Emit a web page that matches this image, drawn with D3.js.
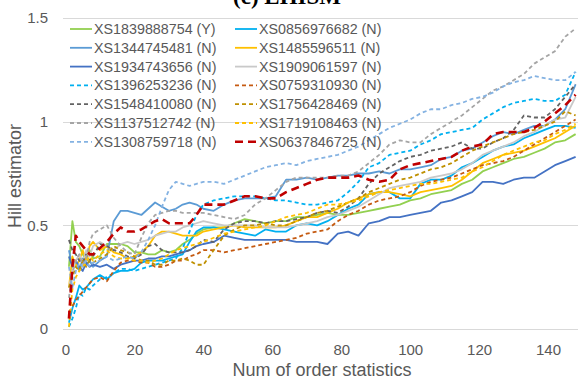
<!DOCTYPE html>
<html><head><meta charset="utf-8">
<script src="https://cdn.jsdelivr.net/npm/d3@7"></script>
<style>body{margin:0;background:#fff}svg{display:block}</style>
</head><body>
<script>
// Shared x positions (number of order statistics)
const xs = [1,2,3,4,5,6,7,8,10,12,14,16,18,20,22,24,26,28,30,32,34,36,38,40,43,46,49,52,55,58,61,64,67,70,73,76,79,82,85,88,91,94,97,100,103,106,109,112,115,118,121,124,127,130,133,136,139,142,145,148];

const s1839888754 = [0.30,0.52,0.42,0.40,0.36,0.33,0.38,0.34,0.35,0.41, 0.41,0.41,0.40,0.37,0.37,0.36,0.36,0.38,0.37,0.38, 0.41,0.43,0.46,0.48,0.49,0.49,0.51,0.53,0.52,0.51, 0.52,0.52,0.54,0.54,0.55,0.56,0.55,0.55,0.56,0.57, 0.58,0.59,0.60,0.62,0.63,0.65,0.66,0.67,0.70,0.72, 0.76,0.78,0.80,0.82,0.83,0.85,0.87,0.90,0.91,0.94];
const s0856976682 = [0.03,0.10,0.15,0.21,0.19,0.20,0.22,0.24,0.26,0.24, 0.27,0.28,0.28,0.29,0.32,0.33,0.33,0.33,0.34,0.35, 0.36,0.42,0.47,0.49,0.49,0.48,0.47,0.46,0.45,0.48, 0.47,0.47,0.50,0.51,0.50,0.52,0.55,0.58,0.60,0.65, 0.66,0.66,0.63,0.63,0.70,0.72,0.72,0.74,0.78,0.80, 0.83,0.86,0.88,0.89,0.92,0.94,0.96,0.98,0.98,0.97];
const s1344745481 = [0.38,0.30,0.33,0.28,0.34,0.31,0.33,0.30,0.33,0.35, 0.52,0.57,0.57,0.56,0.55,0.58,0.61,0.59,0.57,0.58, 0.60,0.61,0.60,0.58,0.57,0.60,0.62,0.63,0.63,0.63, 0.64,0.72,0.72,0.73,0.72,0.73,0.74,0.74,0.75,0.75, 0.76,0.75,0.77,0.77,0.78,0.79,0.82,0.83,0.86,0.87, 0.90,0.93,0.95,0.94,0.96,0.98,0.98,1.01,1.06,1.18];
const s1485596511 = [0.20,0.35,0.30,0.33,0.38,0.33,0.40,0.42,0.38,0.40, 0.37,0.36,0.34,0.35,0.37,0.40,0.45,0.47,0.47,0.46, 0.45,0.45,0.45,0.47,0.48,0.49,0.50,0.49,0.49,0.49, 0.49,0.50,0.52,0.54,0.54,0.56,0.58,0.61,0.63,0.65, 0.66,0.66,0.65,0.64,0.66,0.67,0.68,0.69,0.72,0.76, 0.80,0.82,0.84,0.85,0.86,0.88,0.90,0.92,0.95,0.98];
const s1934743656 = [0.35,0.30,0.33,0.30,0.28,0.32,0.30,0.31,0.30,0.31, 0.29,0.31,0.32,0.33,0.33,0.34,0.34,0.35,0.35,0.36, 0.37,0.38,0.40,0.41,0.42,0.45,0.44,0.43,0.43,0.43, 0.43,0.43,0.42,0.42,0.42,0.41,0.46,0.47,0.45,0.51, 0.52,0.54,0.54,0.55,0.56,0.57,0.61,0.62,0.64,0.66, 0.71,0.71,0.70,0.72,0.73,0.73,0.76,0.79,0.81,0.83];
const s1909061597 = [0.20,0.28,0.33,0.36,0.32,0.38,0.35,0.40,0.42,0.40, 0.38,0.41,0.42,0.41,0.42,0.43,0.45,0.46,0.47,0.47, 0.49,0.50,0.51,0.52,0.51,0.50,0.50,0.50,0.50,0.49, 0.49,0.49,0.50,0.51,0.52,0.54,0.55,0.57,0.59,0.62, 0.65,0.68,0.69,0.70,0.71,0.73,0.74,0.75,0.77,0.80, 0.84,0.86,0.88,0.90,0.93,0.95,0.98,1.01,1.02,1.12];
const s1396253236 = [0.01,0.05,0.10,0.17,0.16,0.20,0.19,0.21,0.24,0.25, 0.27,0.29,0.29,0.28,0.29,0.30,0.31,0.32,0.33,0.34, 0.39,0.47,0.55,0.60,0.62,0.63,0.64,0.64,0.64,0.63, 0.62,0.62,0.61,0.60,0.60,0.61,0.62,0.66,0.71,0.78, 0.80,0.84,0.85,0.86,0.89,0.91,0.94,0.95,0.96,0.97, 1.01,1.04,1.07,1.09,1.10,1.11,1.10,1.10,1.13,1.24];
const s0759310930 = [0.08,0.11,0.14,0.16,0.18,0.20,0.22,0.24,0.25,0.23, 0.28,0.32,0.33,0.33,0.32,0.32,0.30,0.30,0.31,0.33, 0.33,0.35,0.36,0.38,0.38,0.37,0.38,0.39,0.40,0.41, 0.42,0.43,0.44,0.46,0.47,0.48,0.52,0.55,0.57,0.60, 0.62,0.63,0.64,0.66,0.69,0.71,0.72,0.73,0.75,0.77, 0.79,0.80,0.81,0.83,0.86,0.89,0.92,0.95,0.98,1.01];
const s1548410080 = [0.43,0.38,0.36,0.33,0.32,0.36,0.33,0.35,0.41,0.40, 0.38,0.37,0.35,0.34,0.36,0.40,0.41,0.38,0.37,0.37, 0.37,0.38,0.40,0.43,0.42,0.48,0.51,0.52,0.52,0.51, 0.52,0.52,0.53,0.54,0.56,0.57,0.56,0.59,0.63,0.70, 0.75,0.78,0.81,0.83,0.84,0.86,0.87,0.88,0.90,0.87, 0.87,0.90,0.92,0.96,1.03,1.02,1.02,1.06,1.12,1.18];
const s1756428469 = [0.20,0.25,0.30,0.28,0.33,0.30,0.33,0.32,0.34,0.36, 0.40,0.38,0.37,0.35,0.33,0.33,0.31,0.31,0.33,0.33, 0.34,0.33,0.31,0.31,0.38,0.45,0.48,0.50,0.50,0.51, 0.50,0.50,0.52,0.54,0.56,0.57,0.59,0.61,0.63,0.66, 0.68,0.70,0.72,0.73,0.75,0.77,0.78,0.80,0.83,0.86, 0.88,0.90,0.92,0.94,0.95,0.96,0.98,1.00,1.05,1.03];
const s1137512742 = [0.15,0.27,0.33,0.36,0.31,0.34,0.42,0.46,0.48,0.50, 0.44,0.40,0.37,0.36,0.44,0.51,0.55,0.56,0.57,0.57, 0.56,0.56,0.56,0.56,0.55,0.54,0.53,0.55,0.60,0.63, 0.67,0.71,0.73,0.73,0.73,0.73,0.74,0.74,0.76,0.80, 0.84,0.89,0.91,0.90,0.90,0.94,0.97,1.00,1.03,1.07, 1.11,1.15,1.17,1.20,1.23,1.28,1.31,1.34,1.41,1.45];
const s1719108463 = [0.01,0.19,0.25,0.28,0.30,0.32,0.35,0.33,0.36,0.38, 0.35,0.34,0.34,0.33,0.33,0.32,0.33,0.34,0.36,0.38, 0.39,0.40,0.41,0.42,0.44,0.46,0.47,0.48,0.49,0.50, 0.52,0.54,0.55,0.56,0.58,0.60,0.60,0.61,0.62,0.64, 0.66,0.67,0.68,0.69,0.70,0.70,0.71,0.72,0.73,0.76, 0.78,0.81,0.84,0.86,0.88,0.90,0.91,0.94,0.96,0.99];
const s1308759718 = [0.30,0.20,0.28,0.32,0.30,0.33,0.30,0.32,0.33,0.35, 0.33,0.34,0.35,0.34,0.37,0.43,0.50,0.59,0.67,0.71, 0.70,0.69,0.70,0.71,0.71,0.70,0.72,0.74,0.76,0.78, 0.79,0.80,0.79,0.81,0.82,0.83,0.84,0.86,0.88,0.91, 0.94,0.97,0.99,1.01,1.04,1.06,1.06,1.08,1.09,1.11, 1.12,1.14,1.17,1.19,1.20,1.22,1.21,1.20,1.20,1.24];
const s0637846725 = [0.05,0.30,0.45,0.42,0.40,0.38,0.36,0.36,0.39,0.42, 0.46,0.49,0.47,0.47,0.48,0.50,0.52,0.53,0.51,0.51, 0.51,0.51,0.55,0.60,0.60,0.60,0.62,0.64,0.64,0.63, 0.63,0.66,0.68,0.70,0.72,0.73,0.73,0.73,0.74,0.72, 0.71,0.72,0.77,0.79,0.80,0.81,0.82,0.83,0.86,0.88, 0.89,0.94,0.95,0.95,0.95,0.97,1.00,1.04,1.08,1.13];

const names = ["XS1839888754 (Y)","XS0856976682 (N)","XS1344745481 (N)","XS1485596511 (N)","XS1934743656 (N)","XS1909061597 (N)","XS1396253236 (N)","XS0759310930 (N)","XS1548410080 (N)","XS1756428469 (N)","XS1137512742 (N)","XS1719108463 (N)","XS1308759718 (N)","XS0637846725 (N)"];
const values = [s1839888754,s0856976682,s1344745481,s1485596511,s1934743656,s1909061597,s1396253236,s0759310930,s1548410080,s1756428469,s1137512742,s1719108463,s1308759718,s0637846725];
const colors = ["#92D050","#00B0F0","#5B9BD5","#FFC000","#4472C4","#C9C9C9","#00B0F0","#C55A11","#636363","#BF9000","#A5A5A5","#FFC000","#84B2E2","#C00000"];
const dashed = [false,false,false,false,false,false,true,true,true,true,true,true,true,true];
const yTicks = [0,0.5,1,1.5];
const yTickLabels = ["0","0.5","1","1.5"];
const xTicks = [0,20,40,60,80,100,120,140];
const title = "(c) EHISM";
const xTitle = "Num of order statistics";
const yTitle = "Hill estimator";

const W = 578, H = 379;
const svg = d3.select("body").append("svg").attr("width", W).attr("height", H);
const x = d3.scaleLinear().domain([0,150]).range([65.5,582.5]);
const y = d3.scaleLinear().domain([0,1.5]).range([329,18]);
const txt = "#595959";
const font = "'Liberation Sans', Arial, sans-serif";

svg.append("text").attr("x", 287).attr("y", 3.5).attr("text-anchor","middle")
  .attr("font-family","'Liberation Serif', 'Times New Roman', serif").attr("font-weight","bold")
  .attr("font-size", 23).attr("fill","#000").text(title);

// gridlines
svg.append("g").selectAll("line").data(yTicks).join("line")
  .attr("x1", 63).attr("x2", W).attr("y1", d => Math.round(y(d))+0.5).attr("y2", d => Math.round(y(d))+0.5)
  .attr("stroke", "#D9D9D9").attr("stroke-width", 1);

// y axis labels
const yAxis = d3.axisLeft(y).tickValues(yTicks).tickFormat((d,i) => yTickLabels[i]).tickSize(0).tickPadding(0);
const gy = svg.append("g").attr("transform","translate(48,0)").call(yAxis);
gy.select(".domain").remove();
gy.selectAll("text").attr("font-family", font).attr("font-size", 15).attr("fill", txt);

const xAxis = d3.axisBottom(x).tickValues(xTicks).tickSize(0).tickPadding(0);
const gx = svg.append("g").attr("transform","translate(0,344)").call(xAxis);
gx.select(".domain").remove();
gx.selectAll("text").attr("font-family", font).attr("font-size", 15).attr("fill", txt);

svg.append("text").attr("x", 322).attr("y", 376).attr("text-anchor","middle")
  .attr("font-family", font).attr("font-size", 18).attr("fill", txt).text(xTitle);
svg.append("text").attr("transform","translate(21,176) rotate(-90)").attr("text-anchor","middle")
  .attr("font-family", font).attr("font-size", 18).attr("fill", txt).text(yTitle);

const line = d3.line().x(d => x(d[0])).y(d => y(d[1]));
function dash(i){ return i === 13 ? "8,5" : (dashed[i] ? "4,3" : null); }
function sw(i){ return i === 13 ? 2.6 : 1.8; }

svg.append("g").selectAll("path").data(values).join("path")
  .attr("d", v => line(v.map((val, k) => [xs[k], val])))
  .attr("fill","none")
  .attr("stroke", (v,i) => colors[i])
  .attr("stroke-width", (v,i) => sw(i))
  .attr("stroke-dasharray", (v,i) => dash(i))
  .attr("stroke-linejoin","round");

// legend: two columns, filled row-wise
const lg = svg.append("g");
names.forEach((n, i) => {
  const col = i % 2, row = Math.floor(i / 2);
  const lx = col === 0 ? 70 : 235;
  const ly = 29 + row * 18.8;
  lg.append("line").attr("x1", lx).attr("x2", lx + 22).attr("y1", ly).attr("y2", ly)
    .attr("stroke", colors[i]).attr("stroke-width", sw(i)).attr("stroke-dasharray", dash(i));
  lg.append("text").attr("x", lx + 24).attr("y", ly + 5).attr("font-family", font)
    .attr("font-size", 14.3).attr("fill", txt).text(n);
});
</script>
</body></html>
